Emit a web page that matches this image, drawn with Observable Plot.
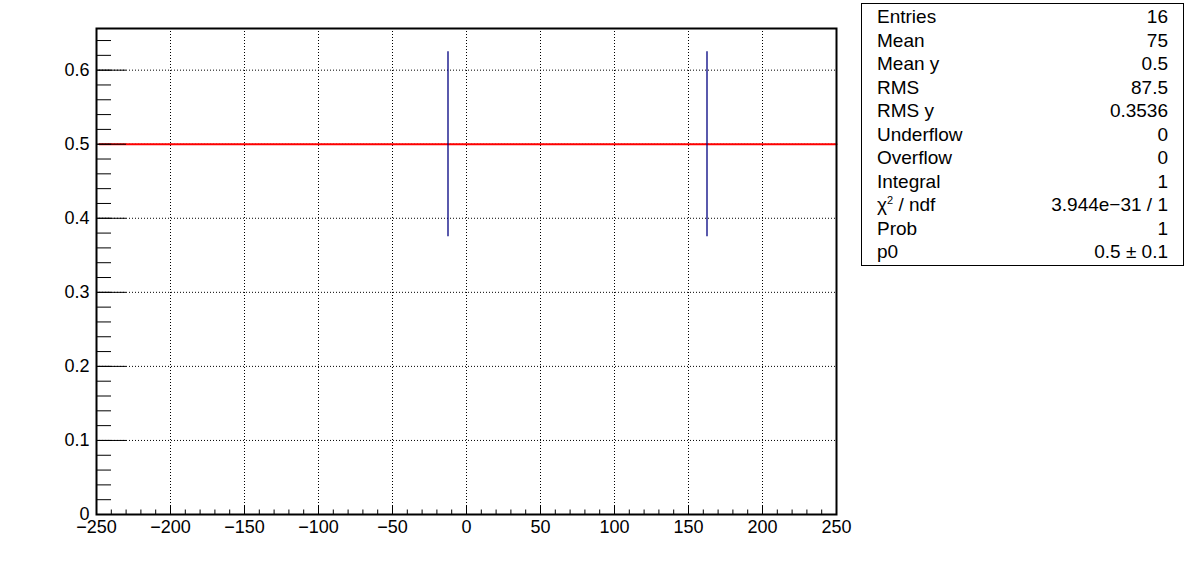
<!DOCTYPE html>
<html>
<head>
<meta charset="utf-8">
<script src="https://cdn.jsdelivr.net/npm/d3@7"></script>
<script src="https://cdn.jsdelivr.net/npm/@observablehq/plot@0.6"></script>
<style>
  html, body { margin: 0; padding: 0; background: #fff; }
  #wrap { position: relative; width: 1196px; height: 572px; font-family: "Liberation Sans", Arial, Helvetica, sans-serif; }
  #stats { position: absolute; left: 861px; top: 3px; width: 321px; border: 1px solid #000; background: #fff;
           padding-top: 1px; padding-bottom: 1px; font-size: 19px; color: #000; }
  #stats .row { display: flex; justify-content: space-between; height: 23.5px; line-height: 23.5px; padding: 0 15px 0 15px; white-space: nowrap; }
  #stats sup { font-size: 11px; line-height: 0; vertical-align: 7px; }
</style>
</head>
<body>
<div id="wrap"></div>
<script>
// ---- data ----
const pointX = [-12.5, 162.5];
const pointY = [0.5, 0.5];
const pointErrY = [0.125, 0.125];

const fitX = [-248, 250];
const fitY = [0.5, 0.5];

const xDomain = [-250, 250];
const yDomain = [0, 0.65625];

const xTickValues = [-250, -200, -150, -100, -50, 0, 50, 100, 150, 200, 250];
const yTickValues = [0, 0.1, 0.2, 0.3, 0.4, 0.5, 0.6];
const yTickLabels = ["0", "0.1", "0.2", "0.3", "0.4", "0.5", "0.6"];
const xGridValues = [-200, -150, -100, -50, 0, 50, 100, 150, 200];
const yGridValues = [0.1, 0.2, 0.3, 0.4, 0.5, 0.6];

const statLabels = ["Entries", "Mean", "Mean y", "RMS", "RMS y", "Underflow", "Overflow", "Integral", "χ<sup>2</sup> / ndf", "Prob", "p0"];
const statValues = ["16", "75", "0.5", "87.5", "0.3536", "0", "0", "1", "3.944e−31 / 1", "1", "0.5 ± 0.1"];

// ---- build tables ----
const points = pointX.map((x, i) => ({x, y: pointY[i], e: pointErrY[i]}));
const fit = fitX.map((x, i) => ({x, y: fitY[i]}));
const xMinor = d3.range(-250, 250.001, 10);
const yMinor = d3.range(0, 0.656, 0.02);
const yFmt = d => yTickLabels[yTickValues.findIndex(v => Math.abs(v - d) < 1e-9)];

const chart = Plot.plot({
  width: 1196,
  height: 572,
  marginLeft: 96,
  marginRight: 360,
  marginTop: 28,
  marginBottom: 58,
  style: {fontFamily: '"Liberation Sans", Arial, Helvetica, sans-serif', fontSize: "18px", color: "#000", background: "#fff", overflow: "visible"},
  x: {domain: xDomain, label: null},
  y: {domain: yDomain, label: null},
  marks: [
    Plot.gridX(xGridValues, {stroke: "#000", strokeOpacity: 1, strokeWidth: 1, strokeDasharray: "1,2"}),
    Plot.gridY(yGridValues, {stroke: "#000", strokeOpacity: 1, strokeWidth: 1, strokeDasharray: "1,2"}),
    Plot.line(fit, {x: "x", y: "y", stroke: "#ff0000", strokeWidth: 2}),
    Plot.ruleX(points, {x: "x", y1: d => d.y - d.e, y2: d => d.y + d.e, stroke: "#000080", strokeWidth: 1.3}),
    // inward ticks
    Plot.axisX({ticks: xTickValues, tickSize: -9, text: null, label: null, stroke: "#000", strokeWidth: 1}),
    Plot.axisX({ticks: xMinor, tickSize: -4.5, text: null, label: null, stroke: "#000", strokeWidth: 1}),
    Plot.axisY({ticks: yTickValues, tickSize: -30, text: null, label: null, stroke: "#000", strokeWidth: 1}),
    Plot.axisY({ticks: yMinor, tickSize: -15, text: null, label: null, stroke: "#000", strokeWidth: 1}),
    // labels
    Plot.axisX({ticks: xTickValues, tickSize: 0, tickPadding: 6, fontSize: 18, label: null, fill: "#000"}),
    Plot.axisY({ticks: yTickValues, tickSize: 0, tickPadding: 7, fontSize: 18, label: null, tickFormat: yFmt, fill: "#000"}),
    Plot.frame({stroke: "#000", strokeWidth: 2})
  ]
});

const wrap = document.getElementById("wrap");
wrap.appendChild(chart);
chart.style.position = "absolute";
chart.style.left = "0px";
chart.style.top = "0px";

const stats = document.createElement("div");
stats.id = "stats";
stats.innerHTML = statLabels.map((l, i) =>
  `<div class="row"><span>${l}</span><span>${statValues[i]}</span></div>`).join("");
wrap.appendChild(stats);
</script>
</body>
</html>
